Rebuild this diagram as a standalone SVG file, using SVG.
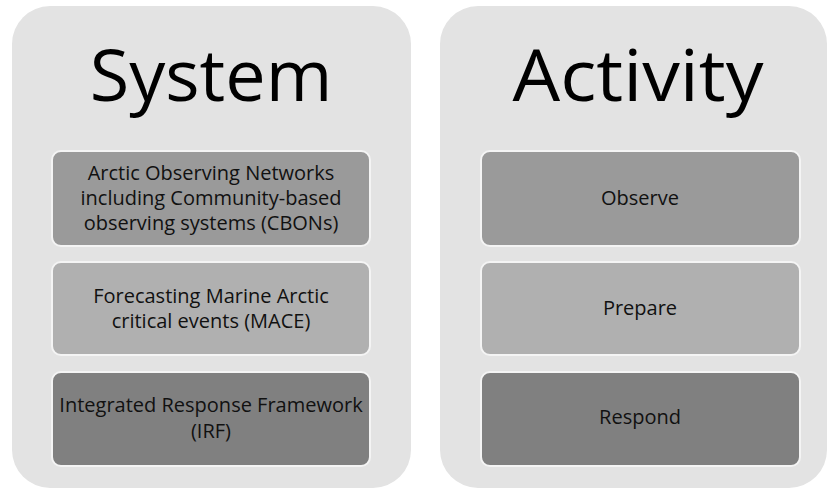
<svg xmlns="http://www.w3.org/2000/svg" width="829" height="489" viewBox="0 0 829 489">
<style>
.panel{fill:#e3e3e3}
.box{stroke:#f4f4f4;stroke-width:2}
.title{font-family:"Open Sans","Liberation Sans",sans-serif;font-size:72px;fill:#000;text-anchor:middle}
.lbl{font-family:"Open Sans","Liberation Sans",sans-serif;font-size:20px;fill:#111;text-anchor:middle}
</style>
<rect width="829" height="489" fill="#ffffff"/>
<g id="system">
<rect class="panel" x="12" y="6" width="399" height="482" rx="38"/>
<text class="title" x="211" y="101">System</text>
</g>
<g id="activity">
<rect class="panel" x="440" y="6" width="387" height="482" rx="38"/>
<text class="title" x="638" y="101" textLength="251" lengthAdjust="spacingAndGlyphs">Activity</text>
</g>
<g id="aon">
<rect class="box" x="52" y="151" width="318" height="95" rx="9" fill="#9a9a9a"/>
<text class="lbl" x="211" y="180">Arctic Observing Networks</text>
<text class="lbl" x="211" y="205">including Community-based</text>
<text class="lbl" x="211" y="230">observing systems (CBONs)</text>
</g>
<g id="mace">
<rect class="box" x="52" y="262" width="318" height="93" rx="9" fill="#b0b0b0"/>
<text class="lbl" x="211" y="303">Forecasting Marine Arctic</text>
<text class="lbl" x="211" y="328">critical events (MACE)</text>
</g>
<g id="irf">
<rect class="box" x="52" y="372" width="318" height="94" rx="9" fill="#808080"/>
<text class="lbl" x="211" y="412">Integrated Response Framework</text>
<text class="lbl" x="211" y="438">(IRF)</text>
</g>
<g id="observe">
<rect class="box" x="481" y="151" width="319" height="95" rx="9" fill="#9a9a9a"/>
<text class="lbl" x="640" y="205">Observe</text>
</g>
<g id="prepare">
<rect class="box" x="481" y="262" width="319" height="93" rx="9" fill="#b0b0b0"/>
<text class="lbl" x="640" y="315">Prepare</text>
</g>
<g id="respond">
<rect class="box" x="481" y="372" width="319" height="94" rx="9" fill="#808080"/>
<text class="lbl" x="640" y="424">Respond</text>
</g>
<g id="connectors"/>
</svg>
